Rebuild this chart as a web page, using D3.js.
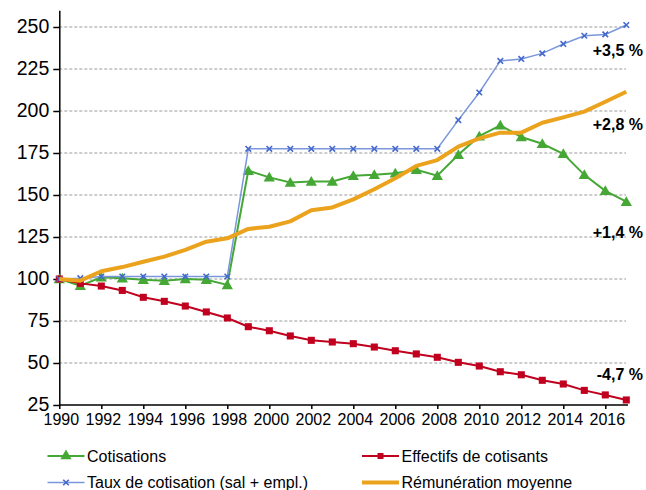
<!DOCTYPE html>
<html><head><meta charset="utf-8">
<script src="https://cdn.jsdelivr.net/npm/d3@7"></script>
<style>body{margin:0;background:#fff}svg{display:block;font-family:"Liberation Sans",Arial,sans-serif}</style>
</head><body><svg id="c" width="646" height="490"></svg>
<script>
const years = d3.range(1990, 2018);
const cotisations = [100,96,101,100.5,99.5,99,100,99.5,96.5,164.5,160.5,157.5,158,158,161.5,162,163,165,161.5,174,185,191.5,184.5,180.5,174.5,162,152.5,146];
const effectifs = [100,97.4,95.8,93.2,89.1,86.7,83.9,80.4,76.8,71.6,69.2,66.1,63.5,62.5,61.5,59.5,57.3,55.4,53.4,50.4,48.2,44.8,43,39.7,37.5,33.7,31,28];
const taux = [100,100.5,101.5,101.5,101.5,101.5,101.5,101.5,101.5,177.5,177.5,177.5,177.5,177.5,177.5,177.5,177.5,177.5,177.5,194.6,211,229.8,231,234.3,239.9,244.8,245.6,251.2];
const remuneration = [100,99,104.6,107.1,110.3,113.3,117.3,122.2,124.2,129.8,131.1,134.3,140.9,142.6,147.4,153.4,160,167.3,170.8,178.8,183.7,187.1,187.1,193,196.2,199.6,205.5,211.5];
const yTicks = [25,50,75,100,125,150,175,200,225,250];
const xTicks = d3.range(1990, 2017, 2);
const annotations = [
  {text:"+3,5 %", v:236},
  {text:"+2,8 %", v:192.3},
  {text:"+1,4 %", v:127.6},
  {text:"-4,7 %", v:43.5}
];
const legendLabels = ["Cotisations","Effectifs de cotisants","Taux de cotisation (sal + empl.)","Rémunération moyenne"];

const svg = d3.select("#c");
const x = d3.scaleLinear().domain([1990, 2017]).range([59.3, 626.3]);
const y = d3.scaleLinear().domain([25, 260]).range([405, 10.2]);

const C = {green:"#45a834", red:"#c0001e", blue:"#7b97dc", blueM:"#4468cc", orange:"#eba31e"};

// gridlines
svg.append("g").selectAll("line").data(yTicks.filter(d=>d>25)).join("line")
  .attr("x1", x(1990)).attr("x2", 626).attr("y1", d=>y(d)).attr("y2", d=>y(d))
  .attr("stroke", "#9a9a9a").attr("stroke-width", 1).attr("stroke-dasharray", "3,2");

// y axis
const ya = svg.append("g").attr("transform", `translate(${x(1990)},0)`)
  .call(d3.axisLeft(y).tickValues(yTicks).tickSize(6).tickSizeOuter(0).tickPadding(4));
ya.select(".domain").attr("stroke", "#000").attr("stroke-width", 1.5);
ya.selectAll(".tick line").attr("stroke", "#000").attr("stroke-width", 1.5);
ya.selectAll("text").attr("font-size", 19.5).attr("fill", "#000").attr("font-family", "Liberation Sans, Arial, sans-serif").attr("dy", "0.3em");

// x axis
const xa = svg.append("g").attr("transform", `translate(0,${y(25)})`)
  .call(d3.axisBottom(x).tickValues(xTicks).tickFormat(d3.format("d")).tickSize(4).tickSizeOuter(0).tickPadding(4.5));
xa.select(".domain").attr("stroke", "#000").attr("stroke-width", 1.5).attr("d", `M${x(1990)},0H628`);
xa.selectAll(".tick line").attr("stroke", "#000").attr("stroke-width", 1.5);
xa.selectAll("text").attr("font-size", 16).attr("fill", "#000").attr("font-family", "Liberation Sans, Arial, sans-serif").attr("dx", 1.5);

const line = d3.line().x((d,i)=>x(years[i])).y(d=>y(d));
const tri = d3.symbol().type(d3.symbolTriangle).size(55);
const sq = d3.symbol().type(d3.symbolSquare).size(50);
const cross = d3.symbol().type(d3.symbolX).size(22);

// Cotisations
svg.append("path").attr("d", line(cotisations)).attr("fill","none").attr("stroke", C.green).attr("stroke-width", 2);
svg.append("g").selectAll("path").data(cotisations).join("path")
  .attr("transform",(d,i)=>`translate(${x(years[i])},${y(d)+1})`).attr("d", tri()).attr("fill", C.green);

// Effectifs
svg.append("path").attr("d", line(effectifs)).attr("fill","none").attr("stroke", C.red).attr("stroke-width", 2);
svg.append("g").selectAll("path").data(effectifs).join("path")
  .attr("transform",(d,i)=>`translate(${x(years[i])},${y(d)})`).attr("d", sq()).attr("fill", C.red);

// Taux
svg.append("path").attr("d", line(taux)).attr("fill","none").attr("stroke", C.blue).attr("stroke-width", 1.5);
svg.append("g").selectAll("path").data(taux).join("path")
  .attr("transform",(d,i)=>`translate(${x(years[i])},${y(d)})`).attr("d", cross()).attr("fill","none").attr("stroke", C.blueM).attr("stroke-width", 1.6);

// Rémunération
svg.append("path").attr("d", line(remuneration)).attr("fill","none").attr("stroke", C.orange).attr("stroke-width", 4).attr("stroke-linejoin","round");

// annotations
svg.append("g").selectAll("text").data(annotations).join("text")
  .attr("x", 643).attr("y", d=>y(d.v)).attr("dy","0.35em").attr("text-anchor","end")
  .attr("font-size", 16).attr("font-weight","bold").attr("fill","#000").text(d=>d.text);

// legend
const leg = [
  {lx:47.5, ty:456, color:C.green, w:2, m:"tri"},
  {lx:362, ty:456, color:C.red, w:2, m:"sq"},
  {lx:47.5, ty:482.5, color:C.blue, w:1.5, m:"x"},
  {lx:362, ty:482.5, color:C.orange, w:4, m:null}
];
leg.forEach((L,i)=>{
  const g = svg.append("g");
  g.append("line").attr("x1", L.lx).attr("x2", L.lx+37).attr("y1", L.ty).attr("y2", L.ty).attr("stroke", L.color).attr("stroke-width", L.w);
  const cx = L.lx+18.5;
  if (L.m==="tri") g.append("path").attr("transform",`translate(${cx},${L.ty})`).attr("d", tri()).attr("fill", L.color);
  if (L.m==="sq") g.append("path").attr("transform",`translate(${cx},${L.ty})`).attr("d", d3.symbol().type(d3.symbolSquare).size(36)()).attr("fill", L.color);
  if (L.m==="x") g.append("path").attr("transform",`translate(${cx},${L.ty})`).attr("d", cross()).attr("fill","none").attr("stroke", C.blueM).attr("stroke-width", 1.6);
  g.append("text").attr("x", L.lx+39.5).attr("y", L.ty).attr("dy","0.35em").attr("font-size", 16).attr("fill","#000").text(legendLabels[i]);
});
</script></body></html>
